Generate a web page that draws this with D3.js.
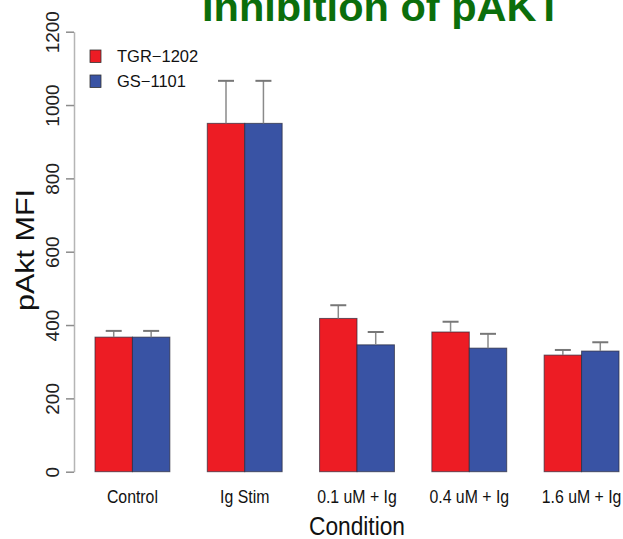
<!DOCTYPE html>
<html>
<head>
<meta charset="utf-8">
<script src="https://cdn.jsdelivr.net/npm/d3@7"></script>
<style>
  body { margin: 0; background: #fff; }
  svg { display: block; font-family: "Liberation Sans", Arial, sans-serif; }
</style>
</head>
<body>
<div id="viz-container"></div>
<script>
// values
const conditions = ['Control', 'Ig Stim', '0.1 uM + Ig', '0.4 uM + Ig', '1.6 uM + Ig'];
const series = ['TGR\u22121202', 'GS\u22121101'];
const tgrValues = [367, 950, 418, 381, 318];
const tgrErrors = [17, 116, 36, 28, 14];
const gsValues = [367, 950, 346, 337, 329];
const gsErrors = [17, 116, 35, 39, 24];
const yTicks = [0, 200, 400, 600, 800, 1000, 1200];
const colors = ['#ed1c24', '#3953a4'];

const width = 623,
      height = 539;

const svg = d3.select('#viz-container')
  .append('svg')
    .attr('width', width)
    .attr('height', height);

const x0 = d3.scaleBand()
  .domain(conditions)
  .range([95, 619])
  .paddingInner(1 / 3)
  .paddingOuter(0);

const x1 = d3.scaleBand()
  .domain(series)
  .range([0, x0.bandwidth()]);

const y = d3.scaleLinear()
  .domain([0, 1200])
  .range([471.7, 31.7]);

const color = d3.scaleOrdinal().domain(series).range(colors);

const rows = [];
conditions.forEach((c, i) => {
  rows.push({ cond: c, s: series[0], v: tgrValues[i], e: tgrErrors[i] });
  rows.push({ cond: c, s: series[1], v: gsValues[i], e: gsErrors[i] });
});

// title (cut off at the top like the original)
svg.append('text')
  .attr('x', 202)
  .attr('y', 21)
  .attr('font-size', 41)
  .attr('font-weight', 'bold')
  .attr('fill', '#0b6e0b')
  .attr('textLength', 360)
  .attr('lengthAdjust', 'spacingAndGlyphs')
  .text('Inhibition of pAKT');

// y axis
const yAxis = svg.append('g')
  .attr('transform', 'translate(74,0)')
  .call(d3.axisLeft(y).tickValues(yTicks).tickSize(8).tickSizeOuter(0).tickFormat(''));

yAxis.select('.domain').attr('stroke', '#b5b5b5').attr('stroke-width', 1.5);
yAxis.selectAll('.tick line').attr('stroke', '#8c8c8c').attr('stroke-width', 1.5);
yAxis.selectAll('.tick text').remove();
yAxis.selectAll('.tick')
  .append('text')
    .attr('transform', 'translate(-15,0) rotate(-90)')
    .attr('text-anchor', 'middle')
    .attr('fill', '#222')
    .attr('font-size', 19)
    .text(d => d);

svg.append('text')
  .attr('transform', 'translate(34,250) rotate(-90)')
  .attr('text-anchor', 'middle')
  .attr('font-size', 26)
  .attr('fill', '#111')
  .attr('textLength', 122)
  .attr('lengthAdjust', 'spacingAndGlyphs')
  .text('pAkt MFI');

// bars
const bars = svg.append('g');
bars.selectAll('rect')
  .data(rows)
  .enter()
  .append('rect')
    .attr('x', d => x0(d.cond) + x1(d.s))
    .attr('y', d => y(d.v))
    .attr('width', x1.bandwidth())
    .attr('height', d => y(0) - y(d.v))
    .attr('fill', d => color(d.s))
    .attr('stroke', '#2a2a3a')
    .attr('stroke-opacity', 0.7)
    .attr('stroke-width', 1);

// error bars
const err = svg.append('g')
  .attr('stroke', '#8a8a8a')
  .attr('stroke-width', 1.5);

err.selectAll('line.v')
  .data(rows)
  .enter()
  .append('line')
    .attr('class', 'v')
    .attr('x1', d => x0(d.cond) + x1(d.s) + x1.bandwidth() / 2)
    .attr('x2', d => x0(d.cond) + x1(d.s) + x1.bandwidth() / 2)
    .attr('y1', d => y(d.v))
    .attr('y2', d => y(d.v + d.e));

err.selectAll('line.cap')
  .data(rows)
  .enter()
  .append('line')
    .attr('class', 'cap')
    .attr('stroke', '#777')
    .attr('stroke-width', 2)
    .attr('x1', d => x0(d.cond) + x1(d.s) + x1.bandwidth() / 2 - 8)
    .attr('x2', d => x0(d.cond) + x1(d.s) + x1.bandwidth() / 2 + 8)
    .attr('y1', d => y(d.v + d.e))
    .attr('y2', d => y(d.v + d.e));

// x labels, squeezed a little like the narrow font of the original
svg.append('g')
  .selectAll('text')
  .data(conditions)
  .enter()
  .append('text')
    .attr('x', d => x0(d) + x0.bandwidth() / 2)
    .attr('y', 503)
    .attr('text-anchor', 'middle')
    .attr('font-size', 18)
    .attr('fill', '#111')
    .text(d => d)
    .each(function() {
      const w = this.getComputedTextLength();
      d3.select(this)
        .attr('textLength', w * 0.88)
        .attr('lengthAdjust', 'spacingAndGlyphs');
    });

svg.append('text')
  .attr('x', 357)
  .attr('y', 535)
  .attr('text-anchor', 'middle')
  .attr('font-size', 26)
  .attr('fill', '#111')
  .attr('textLength', 96)
  .attr('lengthAdjust', 'spacingAndGlyphs')
  .text('Condition');

// legend
const legend = svg.append('g')
  .selectAll('g')
  .data(series)
  .enter()
  .append('g')
    .attr('transform', (d, i) => 'translate(90,' + (50 + i * 25) + ')');

legend.append('rect')
  .attr('width', 11)
  .attr('height', 12.5)
  .attr('fill', d => color(d))
  .attr('stroke', '#333')
  .attr('stroke-width', 0.8);

legend.append('text')
  .attr('x', 27)
  .attr('y', 12)
  .attr('font-size', 16.5)
  .attr('fill', '#111')
  .text(d => d);
</script>
</body>
</html>
